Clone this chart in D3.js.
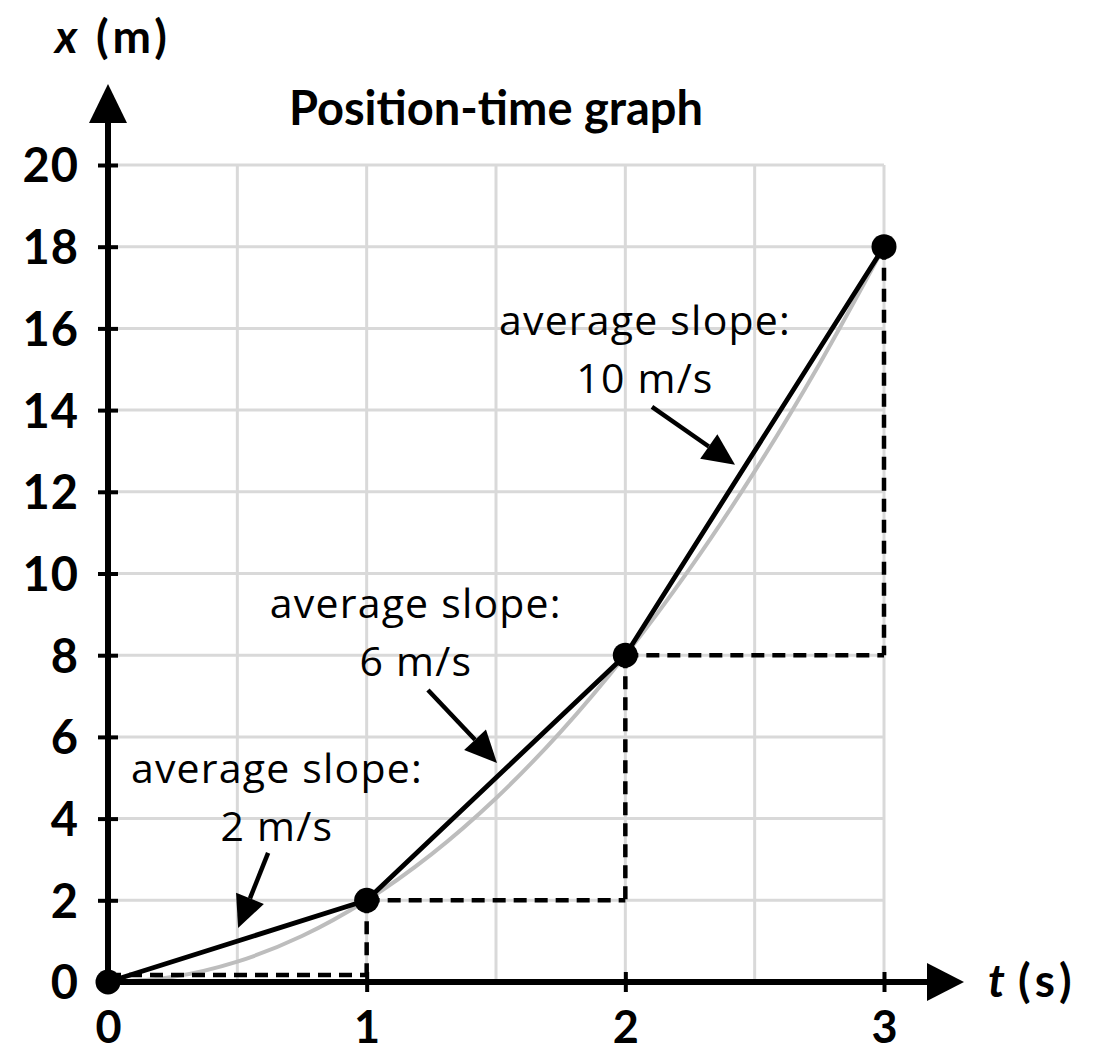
<!DOCTYPE html>
<html>
<head>
<meta charset="utf-8">
<script src="https://cdn.jsdelivr.net/npm/d3@7"></script>
<style>
  body { margin: 0; background: #fff; }
  svg { display: block; font-family: Lato, "Noto Sans", sans-serif; }
</style>
</head>
<body>
<svg id="chart" width="1111" height="1052"></svg>
<script>
// measured points (t in s, x in m)
const pointT = [0, 1, 2, 3];
const pointX = [0, 2, 8, 18];

// underlying smooth curve
const curveT = [0, 0.25, 0.5, 0.75, 1, 1.25, 1.5, 1.75, 2, 2.25, 2.5, 2.75, 3];
const curveX = [0, 0.125, 0.5, 1.125, 2, 3.125, 4.5, 6.125, 8, 10.125, 12.5, 15.125, 18];

const xTicks = [0, 1, 2, 3];
const yTicks = [0, 2, 4, 6, 8, 10, 12, 14, 16, 18, 20];
const gridT = [0.5, 1, 1.5, 2, 2.5, 3];

const slopeLabels = ["2 m/s", "6 m/s", "10 m/s"];

const svg = d3.select("#chart");

const x = d3.scaleLinear().domain([0, 3]).range([108, 884]);
const y = d3.scaleLinear().domain([0, 20]).range([982, 165]);

// grid
const grid = svg.append("g").attr("stroke", "#d9d9d9").attr("stroke-width", 3);
grid.selectAll(".gv").data(gridT).join("line")
  .attr("x1", d => x(d)).attr("x2", d => x(d))
  .attr("y1", y(0)).attr("y2", y(20));
grid.selectAll(".gh").data(yTicks.slice(1)).join("line")
  .attr("x1", x(0)).attr("x2", x(3))
  .attr("y1", d => y(d)).attr("y2", d => y(d));

// grey true curve
const curveData = curveT.map((t, i) => [t, curveX[i]]);
svg.append("path")
  .datum(curveData)
  .attr("fill", "none")
  .attr("stroke", "#bdbdbd")
  .attr("stroke-width", 4)
  .attr("d", d3.line().x(d => x(d[0])).y(d => y(d[1])).curve(d3.curveCatmullRom));

// dashed helper lines (rise / run triangles)
const dashSegs = [
  [[0, 0.17], [1, 0.17]],
  [[1, 2], [1, 0]],
  [[1, 2], [2, 2]],
  [[2, 8], [2, 2]],
  [[2, 8], [3, 8]],
  [[3, 18], [3, 8]]
];
svg.append("g").selectAll("line").data(dashSegs).join("line")
  .attr("x1", d => x(d[0][0])).attr("y1", d => y(d[0][1]))
  .attr("x2", d => x(d[1][0])).attr("y2", d => y(d[1][1]))
  .attr("stroke", "#000").attr("stroke-width", 4.5)
  .attr("stroke-dasharray", "13 8");

// secant segments
const pts = pointT.map((t, i) => [t, pointX[i]]);
svg.append("path")
  .datum(pts)
  .attr("fill", "none")
  .attr("stroke", "#000")
  .attr("stroke-width", 4.8)
  .attr("stroke-linejoin", "round")
  .attr("d", d3.line().x(d => x(d[0])).y(d => y(d[1])));

// axes
const yAxis = svg.append("g")
  .attr("transform", `translate(${x(0)},0)`)
  .call(d3.axisLeft(y).tickValues(yTicks).tickSize(0).tickPadding(29));
yAxis.select(".domain").remove();
yAxis.selectAll(".tick line").attr("x1", -10).attr("x2", 10)
  .attr("stroke", "#000").attr("stroke-width", 4);
yAxis.selectAll(".tick text")
  .attr("font-family", "Lato, sans-serif")
  .attr("font-size", 47).attr("font-weight", 700).attr("fill", "#000")
  .attr("letter-spacing", 1)
  .attr("dy", "0.36em");

const xAxis = svg.append("g")
  .attr("transform", `translate(0,${y(0)})`)
  .call(d3.axisBottom(x).tickValues(xTicks).tickFormat(d3.format("d")).tickSize(0).tickPadding(29));
xAxis.select(".domain").remove();
xAxis.selectAll(".tick line").attr("y1", -10).attr("y2", 10)
  .attr("stroke", "#000").attr("stroke-width", 4);
xAxis.selectAll(".tick text")
  .attr("font-family", "Lato, sans-serif")
  .attr("font-size", 45).attr("font-weight", 700).attr("fill", "#000");

// axis lines with arrowheads
svg.append("line")
  .attr("x1", x(0)).attr("x2", x(0))
  .attr("y1", y(0) + 3).attr("y2", y(20) - 44)
  .attr("stroke", "#000").attr("stroke-width", 6);
svg.append("path")
  .attr("d", `M${x(0) - 19},${y(20) - 42}L${x(0) + 19},${y(20) - 42}L${x(0)},${y(20) - 81}Z`)
  .attr("fill", "#000");
svg.append("line")
  .attr("x1", x(0) - 3).attr("x2", x(3) + 45)
  .attr("y1", y(0)).attr("y2", y(0))
  .attr("stroke", "#000").attr("stroke-width", 6);
svg.append("path")
  .attr("d", `M${x(3) + 43},${y(0) - 19}L${x(3) + 43},${y(0) + 19}L${x(3) + 80},${y(0)}Z`)
  .attr("fill", "#000");

// axis titles
const yTitle = svg.append("text")
  .attr("y", 53)
  .attr("font-size", 46).attr("font-weight", 700);
yTitle.append("tspan").attr("x", 55).attr("font-style", "italic").text("x");
yTitle.append("tspan").attr("x", 96).attr("letter-spacing", 4).text("(m)");

const xTitle = svg.append("text")
  .attr("y", 997)
  .attr("font-size", 46).attr("font-weight", 700);
xTitle.append("tspan").attr("x", 988).attr("font-style", "italic").text("t");
xTitle.append("tspan").attr("x", 1018).attr("letter-spacing", 5).text("(s)");

// chart title
svg.append("text")
  .attr("x", (x(0) + x(3)) / 2).attr("y", 125)
  .attr("text-anchor", "middle")
  .attr("font-size", 47).attr("font-weight", 700)
  .text("Position-time graph");

// dots
svg.append("g").selectAll("circle").data(pts).join("circle")
  .attr("cx", d => x(d[0])).attr("cy", d => y(d[1]))
  .attr("r", 12.5).attr("fill", "#000");

// annotations: label anchor and arrow (tail -> head) in data units
const notes = [
  { at: [0.653, 4.87], tail: [0.619, 3.16], head: [0.503, 1.32] },
  { at: [1.19, 8.91], tail: [1.237, 7.15], head: [1.504, 5.36] },
  { at: [2.076, 15.84], tail: [2.103, 14.08], head: [2.424, 12.66] }
];

const ann = svg.append("g");
notes.forEach((n, i) => {
  const t = ann.append("text")
    .attr("x", x(n.at[0])).attr("y", y(n.at[1]))
    .attr("text-anchor", "middle")
    .attr("font-family", "'Open Sans', sans-serif")
    .attr("font-size", 41).attr("font-weight", 400)
    .attr("letter-spacing", 1.2);
  t.append("tspan").attr("x", x(n.at[0])).text("average slope:");
  t.append("tspan").attr("x", x(n.at[0])).attr("dy", 58).text(slopeLabels[i]);

  const x1 = x(n.tail[0]), y1 = y(n.tail[1]);
  const x2 = x(n.head[0]), y2 = y(n.head[1]);
  const ang = Math.atan2(y2 - y1, x2 - x1);
  const len = 32, half = 15;
  const bx = x2 - len * Math.cos(ang), by = y2 - len * Math.sin(ang);
  ann.append("line")
    .attr("x1", x1).attr("y1", y1).attr("x2", bx).attr("y2", by)
    .attr("stroke", "#000").attr("stroke-width", 4.5);
  const px = -Math.sin(ang) * half, py = Math.cos(ang) * half;
  ann.append("path")
    .attr("d", `M${x2},${y2}L${bx + px},${by + py}L${bx - px},${by - py}Z`)
    .attr("fill", "#000");
});
</script>
</body>
</html>
